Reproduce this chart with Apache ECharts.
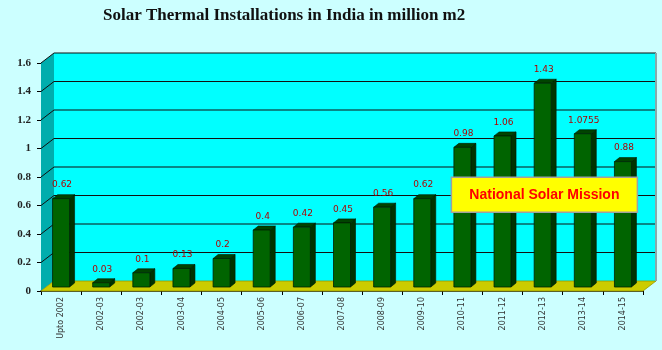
<!DOCTYPE html>
<html>
<head>
<meta charset="utf-8">
<script src="https://cdn.jsdelivr.net/npm/echarts@6/dist/echarts.min.js"></script>
<style>html,body{margin:0;padding:0;background:#ccffff;}#c{width:662px;height:350px;}</style>
</head>
<body>
<div id="c"></div>
<script>
var categories = ["Upto 2002","2002-03","2002-03","2003-04","2004-05","2005-06","2006-07","2007-08","2008-09","2009-10","2010-11","2011-12","2012-13","2013-14","2014-15"];
var values = [0.62, 0.03, 0.1, 0.13, 0.2, 0.4, 0.42, 0.45, 0.56, 0.62, 0.98, 1.06, 1.43, 1.0755, 0.88];
var yTicks = [0, 0.2, 0.4, 0.6, 0.8, 1.0, 1.2, 1.4, 1.6];
var titleText = "Solar Thermal Installations in India in million m2";
var noteText = "National Solar Mission";

var WALL_DX = 13, WALL_DY = -10;
var BAR_W = 17, BAR_DX = 5, BAR_DY = -4, BAR_BASE_DY = -4;

var chart = echarts.init(document.getElementById('c'), null, {renderer: 'canvas'});

function renderWalls(params, api) {
  var cs = params.coordSys;
  var x0 = cs.x, x1 = cs.x + cs.width;
  var yTop = api.coord([0, yTicks[yTicks.length - 1]])[1];
  var yBot = api.coord([0, 0])[1];
  var children = [];
  children.push({type: 'rect', shape: {x: x0 + WALL_DX, y: yTop + WALL_DY, width: cs.width, height: yBot - yTop}, style: {fill: '#00ffff', stroke: null}});
  children.push({type: 'polygon', shape: {points: [[x0, yTop], [x0 + WALL_DX, yTop + WALL_DY], [x0 + WALL_DX, yBot + WALL_DY], [x0, yBot]]}, style: {fill: '#00adad'}});
  children.push({type: 'polygon', shape: {points: [[x0, yBot], [x0 + WALL_DX, yBot + WALL_DY], [x1 + WALL_DX, yBot + WALL_DY], [x1, yBot]]}, style: {fill: '#cccc00', stroke: '#999900', lineWidth: 0.8}});
  for (var i = 1; i < yTicks.length; i++) {
    var y = api.coord([0, yTicks[i]])[1];
    children.push({type: 'line', shape: {x1: x0 + WALL_DX, y1: y + WALL_DY, x2: x1 + WALL_DX, y2: y + WALL_DY}, style: {stroke: '#111', lineWidth: 1.2}});
    children.push({type: 'line', shape: {x1: x0, y1: y, x2: x0 + WALL_DX, y2: y + WALL_DY}, style: {stroke: '#111', lineWidth: 1}});
  }
  children.push({type: 'line', shape: {x1: x1 + WALL_DX, y1: yTop + WALL_DY, x2: x1 + WALL_DX, y2: yBot + WALL_DY}, style: {stroke: '#88aaaa', lineWidth: 2}});
  return {type: 'group', children: children};
}

function renderBar(params, api) {
  var idx = api.value(0), val = api.value(1);
  var pt = api.coord([idx, val]);
  var p0 = api.coord([idx, 0]);
  var x = pt[0] - BAR_W / 2;
  var top = pt[1] + BAR_BASE_DY;
  var bot = p0[1] + BAR_BASE_DY;
  var xr = x + BAR_W;
  return {type: 'group', children: [
    {type: 'polygon', shape: {points: [[xr, top], [xr + BAR_DX, top + BAR_DY], [xr + BAR_DX, bot + BAR_DY], [xr, bot]]}, style: {fill: '#003300', stroke: '#001a00', lineWidth: 0.6}},
    {type: 'polygon', shape: {points: [[x, top], [x + BAR_DX, top + BAR_DY], [xr + BAR_DX, top + BAR_DY], [xr, top]]}, style: {fill: '#004400', stroke: '#001a00', lineWidth: 0.6}},
    {type: 'rect', shape: {x: x, y: top, width: BAR_W, height: bot - top}, style: {fill: '#006400', stroke: '#002200', lineWidth: 0.8}},
    {type: 'text', style: {x: pt[0] + 1, y: top - 9, text: String(val), fill: '#b00000', font: '9px "DejaVu Sans", sans-serif', align: 'center', verticalAlign: 'bottom'}}
  ]};
}

function renderNote(params, api) {
  var a = api.coord([10, 0.7]);
  var x = a[0] - 11, y = a[1] - 14;
  return {type: 'group', children: [
    {type: 'rect', shape: {x: x, y: y, width: 186, height: 35}, style: {fill: '#ffff00', stroke: '#a0a0a0', lineWidth: 1.5}},
    {type: 'text', style: {x: x + 93, y: y + 18, text: noteText, fill: '#ff0000', font: 'bold 14px "Liberation Sans", Arial, sans-serif', align: 'center', verticalAlign: 'middle'}}
  ]};
}

var option = {
  backgroundColor: '#ccffff',
  animation: false,
  title: {text: titleText, left: 98, top: 2, textStyle: {fontFamily: '"Liberation Serif", serif', fontWeight: 'bold', fontSize: 17, color: '#111'}},
  grid: {left: 41, right: 19, top: 63, bottom: 59, containLabel: false},
  xAxis: {
    type: 'category', data: categories,
    axisLine: {show: true, lineStyle: {color: '#000', width: 1.5}},
    axisTick: {show: true, alignWithLabel: false, length: 4, lineStyle: {color: '#000'}},
    axisLabel: {rotate: 90, fontSize: 8, color: '#333', margin: 6, interval: 0, fontFamily: '"DejaVu Sans", sans-serif'},
    splitLine: {show: false}
  },
  yAxis: {
    type: 'value', min: 0, max: 1.6, interval: 0.2,
    axisLine: {show: true, lineStyle: {color: '#000', width: 1}},
    axisTick: {show: true, length: 4, lineStyle: {color: '#000'}},
    axisLabel: {fontFamily: '"Liberation Serif", serif', fontWeight: 'bold', fontSize: 11, color: '#222', margin: 10},
    splitLine: {show: false}
  },
  series: [
    {type: 'custom', renderItem: renderWalls, data: [[0, 0]], z: 1, silent: true, clip: false},
    {type: 'custom', renderItem: renderBar, data: values.map(function (v, i) { return [i, v]; }), encode: {x: 0, y: 1}, z: 3, clip: false},
    {type: 'custom', renderItem: renderNote, data: [[10, 0.7]], z: 10, silent: true, clip: false}
  ]
};
chart.setOption(option);
</script>
</body>
</html>
